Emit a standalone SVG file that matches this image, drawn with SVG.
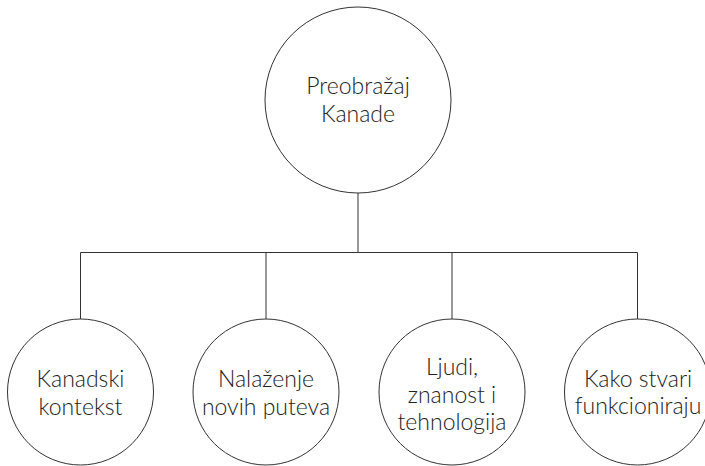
<svg xmlns="http://www.w3.org/2000/svg" width="705" height="466" viewBox="0 0 705 466">
<style>
.n{fill:#fff;stroke:#333;stroke-width:1}
.c{fill:none;stroke:#333;stroke-width:1}
text{font-family:Lato,"Open Sans",sans-serif;font-weight:300;font-size:23px;fill:#222;text-anchor:middle}
</style>
<rect width="705" height="466" fill="#fff"/>
<g id="connectors">
<line class="c" x1="358" y1="193" x2="358" y2="252.5"/>
<line class="c" x1="80.5" y1="252.5" x2="637.5" y2="252.5"/>
<line class="c" x1="80.5" y1="252.5" x2="80.5" y2="319"/>
<line class="c" x1="266" y1="252.5" x2="266" y2="319"/>
<line class="c" x1="452" y1="252.5" x2="452" y2="319"/>
<line class="c" x1="637.5" y1="252.5" x2="637.5" y2="319"/>
</g>
<g id="root">
<circle class="n" cx="358" cy="100" r="93"/>
<text x="358" y="94">Preobražaj</text>
<text x="358" y="122">Kanade</text>
</g>
<g id="n1">
<circle class="n" cx="80.5" cy="392" r="73"/>
<text x="80.5" y="387">Kanadski</text>
<text x="80.5" y="415">kontekst</text>
</g>
<g id="n2">
<circle class="n" cx="266" cy="392" r="73"/>
<text x="266" y="387">Nalaženje</text>
<text x="266" y="415">novih puteva</text>
</g>
<g id="n3">
<circle class="n" cx="452" cy="392" r="73"/>
<text x="452" y="375">Ljudi,</text>
<text x="452" y="403">znanost i</text>
<text x="452" y="430">tehnologija</text>
</g>
<g id="n4">
<circle class="n" cx="637.5" cy="392" r="73"/>
<text x="638" y="387">Kako stvari</text>
<text x="638" y="414">funkcioniraju</text>
</g>
</svg>
